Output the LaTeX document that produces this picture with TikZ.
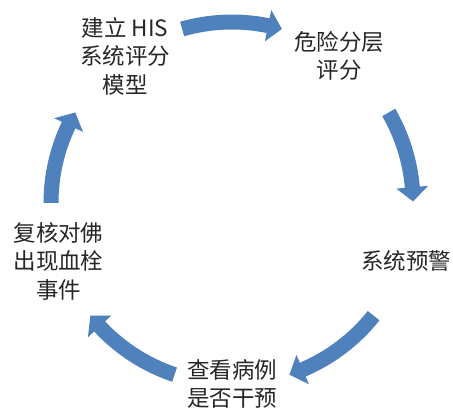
\documentclass[tikz,border=0pt]{standalone}
\usepackage{fontspec}
\setmainfont{Carlito}
\newfontfamily\cjk{Noto Sans CJK SC}
\definecolor{arrowblue}{HTML}{4F81BD}
\tikzset{
  lab/.style={font=\cjk\fontsize{22.5}{28.5}\selectfont, align=center, text=black!85, inner sep=0pt},
  cycarrow/.style={fill=arrowblue, draw=none}
}
\newcommand\cyclearrow[2]{% #1 start angle, #2 tip angle (clockwise)
  \fill[cycarrow] (#1:188.5pt) arc[start angle=#1, end angle={#2+4.5}, radius=188.5pt]
    -- ({#2+4.5}:197pt) -- (#2:181pt) -- ({#2+4.5}:165pt) -- ({#2+4.5}:173.5pt)
    arc[start angle={#2+4.5}, end angle=#1, radius=173.5pt] -- cycle;
}
\begin{document}
\begin{tikzpicture}[x=1pt,y=1pt]
  \useasboundingbox (0,0) rectangle (453,410);
  \coordinate (c) at (232,207);
  \node[lab] (n1) at (125,354) {建立 HIS\\系统评分\\模型};
  \node[lab] (n2) at (339,354) {危险分层\\评分};
  \node[lab] (n3) at (406,149) {系统预警};
  \node[lab] (n4) at (232,26) {查看病例\\是否干预};
  \node[lab] (n5) at (58.5,149) {复核对佛\\出现血栓\\事件};
  \begin{scope}[shift={(c)}]
    \cyclearrow{106}{74}
    \cyclearrow{30}{0.5}
    \cyclearrow{-38.5}{-71.5}
    \cyclearrow{-108.5}{-141.5}
    \cyclearrow{180}{150}
  \end{scope}
\end{tikzpicture}
\end{document}
